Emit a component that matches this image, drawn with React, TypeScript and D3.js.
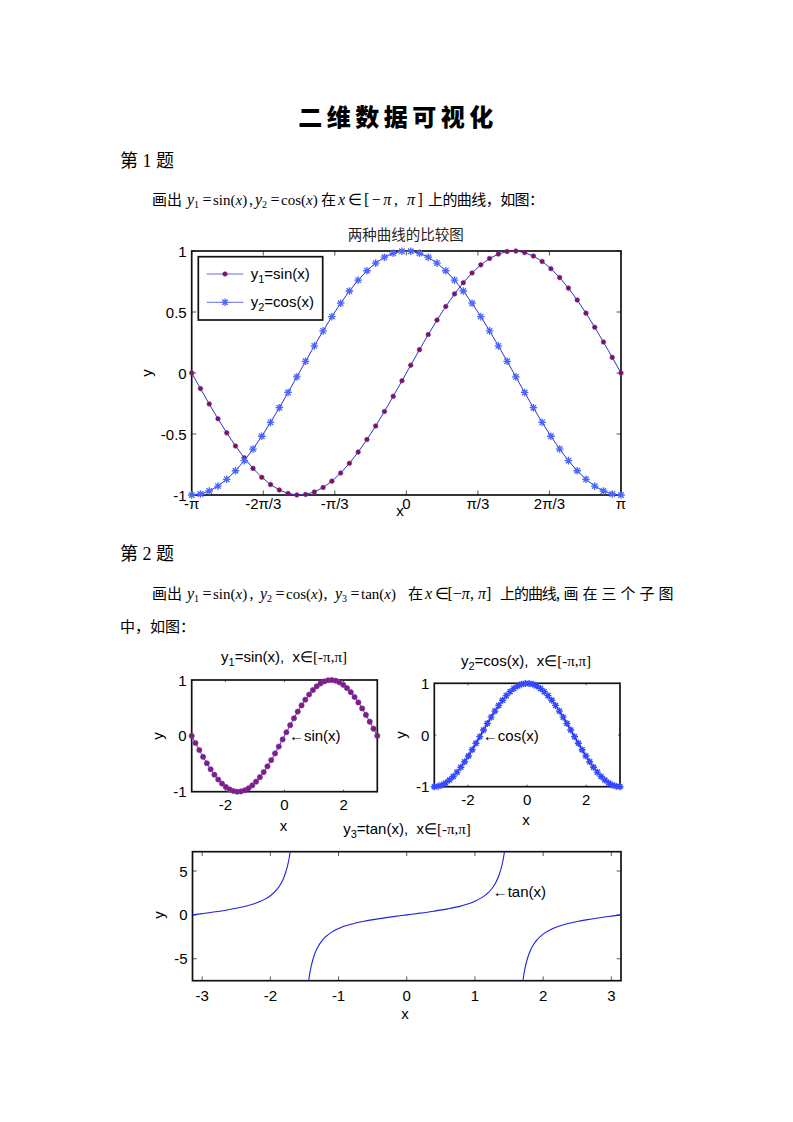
import React from "react";
import * as d3 from "d3";

// ---------- data ----------
const X_PTS = [
  -3.1416, -3.0134, -2.8851, -2.7569, -2.6287, -2.5005, -2.3722, -2.244, -2.1158, -1.9875,
  -1.8593, -1.7311, -1.6029, -1.4746, -1.3464, -1.2182, -1.0899, -0.9617, -0.8335, -0.7053,
  -0.577, -0.4488, -0.3206, -0.1923, -0.0641, 0.0641, 0.1923, 0.3206, 0.4488, 0.577,
  0.7053, 0.8335, 0.9617, 1.0899, 1.2182, 1.3464, 1.4746, 1.6029, 1.7311, 1.8593,
  1.9875, 2.1158, 2.244, 2.3722, 2.5005, 2.6287, 2.7569, 2.8851, 3.0134, 3.1416,
];
const SIN_PTS = [
  0, -0.1279, -0.2537, -0.3753, -0.4907, -0.5981, -0.6957, -0.7818, -0.8551, -0.9144,
  -0.9587, -0.9872, -0.9995, -0.9954, -0.9749, -0.9385, -0.8866, -0.8202, -0.7403, -0.6482,
  -0.5455, -0.4339, -0.3151, -0.1912, -0.0641, 0.0641, 0.1912, 0.3151, 0.4339, 0.5455,
  0.6482, 0.7403, 0.8202, 0.8866, 0.9385, 0.9749, 0.9954, 0.9995, 0.9872, 0.9587,
  0.9144, 0.8551, 0.7818, 0.6957, 0.5981, 0.4907, 0.3753, 0.2537, 0.1279, 0,
];
const COS_PTS = [
  -1, -0.9918, -0.9673, -0.9269, -0.8713, -0.8014, -0.7183, -0.6235, -0.5184, -0.4048,
  -0.2845, -0.1596, -0.0321, 0.096, 0.2225, 0.3454, 0.4625, 0.5721, 0.6723, 0.7615,
  0.8381, 0.901, 0.9491, 0.9816, 0.9979, 0.9979, 0.9816, 0.9491, 0.901, 0.8381,
  0.7615, 0.6723, 0.5721, 0.4625, 0.3454, 0.2225, 0.096, -0.0321, -0.1596, -0.2845,
  -0.4048, -0.5184, -0.6235, -0.7183, -0.8014, -0.8713, -0.9269, -0.9673, -0.9918, -1,
];
const TAN_X_A = [-3.1416, -3.0, -2.8, -2.65, -2.5, -2.35, -2.2, -2.1, -2.0, -1.9, -1.85, -1.8, -1.75, -1.72, -1.69];
const TAN_Y_A = [0, 0.1425, 0.3555, 0.5355, 0.747, 1.0125, 1.3738, 1.7098, 2.185, 2.9271, 3.488, 4.2863, 5.5204, 6.652, 8.349];
const TAN_X_B = [-1.44, -1.42, -1.4, -1.35, -1.3, -1.25, -1.2, -1.1, -1.0, -0.8, -0.6, -0.4, -0.2, 0, 0.2, 0.4, 0.6, 0.8, 1.0, 1.1, 1.2, 1.25, 1.3, 1.35, 1.4, 1.42, 1.44];
const TAN_Y_B = [-7.602, -6.581, -5.798, -4.455, -3.602, -3.0096, -2.572, -1.965, -1.557, -1.0296, -0.6841, -0.4228, -0.2027, 0, 0.2027, 0.4228, 0.6841, 1.0296, 1.557, 1.965, 2.572, 3.0096, 3.602, 4.455, 5.798, 6.581, 7.602];
const TAN_X_C = [1.69, 1.72, 1.75, 1.8, 1.85, 1.9, 2.0, 2.1, 2.2, 2.35, 2.5, 2.65, 2.8, 3.0, 3.1416];
const TAN_Y_C = [-8.349, -6.652, -5.5204, -4.2863, -3.488, -2.9271, -2.185, -1.7098, -1.3738, -1.0125, -0.747, -0.5355, -0.3555, -0.1425, 0];

const PI_TICKS = [-Math.PI, (-2 * Math.PI) / 3, -Math.PI / 3, 0, Math.PI / 3, (2 * Math.PI) / 3, Math.PI];
const PI_TICK_LABELS = ["-π", "-2π/3", "-π/3", "0", "π/3", "2π/3", "π"];
const Y1_TICKS = [-1, -0.5, 0, 0.5, 1];
const Y1_TICK_LABELS = ["-1", "-0.5", "0", "0.5", "1"];
const SUB_X_TICKS = [-2, 0, 2];
const SUB_X_LABELS = ["-2", "0", "2"];
const SUB_Y_TICKS = [-1, 0, 1];
const SUB_Y_LABELS = ["-1", "0", "1"];
const TAN_X_TICKS = [-3, -2, -1, 0, 1, 2, 3];
const TAN_Y_TICKS = [-5, 0, 5];

// ---------- styles ----------
const SANS = "'Liberation Sans', Arial, sans-serif";
const SERIF = "'Liberation Serif', 'Times New Roman', serif";
const CJK = "'Noto Sans CJK SC', sans-serif";
const NB = "\u00a0\u00a0";

const LINE_BLUE = "#3030e0";
const DOT_FILL = "#8a0c5a";
const DOT_STROKE = "#5a3a9a";
const STAR = "#4a66ff";

function starPath(r: number) {
  const d = r * 0.72;
  return `M${-r},0H${r}M0,${-r}V${r}M${-d},${-d}L${d},${d}M${-d},${d}L${d},${-d}`;
}

type AxProps = {
  xs: d3.ScaleLinear<number, number>;
  ys: d3.ScaleLinear<number, number>;
  xt: number[];
  xtl: string[];
  yt: number[];
  ytl: string[];
  tick: number;
  xBase: number;
  fs: number;
};

function Frame({ xs, ys, xt, xtl, yt, ytl, tick, xBase, fs }: AxProps) {
  const [x0, x1] = xs.range();
  const [y0, y1] = ys.range();
  return (
    <g>
      <rect x={x0} y={y1} width={x1 - x0} height={y0 - y1} fill="#fff" />
      {xt.map((t, i) => (
        <g key={"xt" + i} stroke="#555" strokeWidth={1}>
          <line x1={xs(t)} x2={xs(t)} y1={y0} y2={y0 - tick} />
          <line x1={xs(t)} x2={xs(t)} y1={y1} y2={y1 + tick} />
        </g>
      ))}
      {yt.map((t, i) => (
        <g key={"yt" + i} stroke="#555" strokeWidth={1}>
          <line x1={x0} x2={x0 + tick} y1={ys(t)} y2={ys(t)} />
          <line x1={x1} x2={x1 - tick} y1={ys(t)} y2={ys(t)} />
        </g>
      ))}
      <rect x={x0} y={y1} width={x1 - x0} height={y0 - y1} fill="none" stroke="#111" strokeWidth={1.7} />
      {xt.map((t, i) => (
        <text key={"xl" + i} x={xs(t)} y={xBase} textAnchor="middle" fontFamily={SANS} fontSize={fs}>
          {xtl[i]}
        </text>
      ))}
      {yt.map((t, i) => (
        <text
          key={"yl" + i}
          x={x0 - 5}
          y={ys(t)}
          textAnchor="end"
          dominantBaseline="central"
          fontFamily={SANS}
          fontSize={fs}
        >
          {ytl[i]}
        </text>
      ))}
    </g>
  );
}

export default function App() {
  // chart 1
  const x1s = d3.scaleLinear().domain([-Math.PI, Math.PI]).range([191.7, 621]);
  const y1s = d3.scaleLinear().domain([-1, 1]).range([495, 251]);
  const line1 = d3
    .line<number>()
    .x((_, i) => x1s(X_PTS[i]))
    .y((d) => y1s(d));

  // subplot 1
  const xa = d3.scaleLinear().domain([-Math.PI, Math.PI]).range([191.7, 377.3]);
  const ya = d3.scaleLinear().domain([-1, 1]).range([791.7, 680]);
  const lineA = d3
    .line<number>()
    .x((_, i) => xa(X_PTS[i]))
    .y((d) => ya(d));

  // subplot 2
  const xb = d3.scaleLinear().domain([-Math.PI, Math.PI]).range([434.3, 620]);
  const yb = d3.scaleLinear().domain([-1, 1]).range([786.7, 683.3]);
  const lineB = d3
    .line<number>()
    .x((_, i) => xb(X_PTS[i]))
    .y((d) => yb(d));

  // subplot 3
  const xc = d3.scaleLinear().domain([-Math.PI, Math.PI]).range([192.5, 621]);
  const yc = d3.scaleLinear().domain([-7.5, 7.2]).range([980.7, 851.7]);
  const tanLine = (xsArr: number[], ysArr: number[]) =>
    d3
      .line<number>()
      .x((_, i) => xc(xsArr[i]))
      .y((d) => yc(d))
      .curve(d3.curveMonotoneX)(ysArr) || "";

  const cjk15 = { fontFamily: CJK, fontSize: 15 };
  const ser = { fontFamily: SERIF, fontSize: 16 };
  const L1 = 205;
  const L2 = 599;

  const Yi = ({ x, y, n }: { x: number; y: number; n: string }) => (
    <text x={x} y={y} {...ser}>
      <tspan fontStyle="italic">y</tspan>
      <tspan fontSize={10} dy={3}>{n}</tspan>
    </text>
  );
  const Fn = ({ x, y, f }: { x: number; y: number; f: string }) => (
    <text x={x} y={y} fontFamily={SERIF} fontSize={15}>
      {f}(<tspan fontStyle="italic">x</tspan>)
    </text>
  );
  const Range = ({ x, y, ls }: { x: number; y: number; ls: number }) => (
    <text x={x} y={y} {...ser} letterSpacing={ls}>
      [−<tspan fontStyle="italic">π</tspan>,{"\u00a0"}<tspan fontStyle="italic">π</tspan>]
    </text>
  );

  return (
    <svg
      width={793}
      height={1122}
      style={{ position: "absolute", left: 0, top: 0, background: "#fff" }}
      xmlns="http://www.w3.org/2000/svg"
    >
      <defs>
        <clipPath id="tanclip">
          <rect x={192.5} y={851.7} width={621 - 192.5} height={980.7 - 851.7} />
        </clipPath>
      </defs>
      <rect x={0} y={0} width={793} height={1122} fill="#fff" />

      {/* page title */}
      <text x={398} y={126} textAnchor="middle" fontFamily={CJK} fontSize={24} fontWeight={900} letterSpacing={4.5}>
        二维数据可视化
      </text>

      {/* 第1题 */}
      <text x={120} y={167} fontFamily={CJK} fontSize={18}>
        第<tspan fontFamily={SERIF}> 1 </tspan>题
      </text>

      {/* line 1 */}
      <g>
        <text x={152} y={L1} {...cjk15}>画出</text>
        <Yi x={187} y={L1} n="1" />
        <text x={202.5} y={L1} {...ser}>=</text>
        <Fn x={213} y={L1} f="sin" />
        <text x={249} y={L1} {...ser}>,</text>
        <Yi x={255} y={L1} n="2" />
        <text x={270.5} y={L1} {...ser}>=</text>
        <Fn x={281} y={L1} f="cos" />
        <text x={321} y={L1} {...cjk15}>在</text>
        <text x={338} y={L1} {...ser} fontStyle="italic">x</text>
        <text x={348} y={L1} {...ser}>∈</text>
        <Range x={364} y={L1} ls={2.5} />
        <text x={428} y={L1} {...cjk15} textLength={116} lengthAdjust="spacing">上的曲线，如图：</text>
      </g>

      {/* chart 1 */}
      <text x={405.8} y={240} textAnchor="middle" fontFamily={CJK} fontSize={14.5} fill="#222">
        两种曲线的比较图
      </text>
      <Frame
        xs={x1s}
        ys={y1s}
        xt={PI_TICKS}
        xtl={PI_TICK_LABELS}
        yt={Y1_TICKS}
        ytl={Y1_TICK_LABELS}
        tick={4.5}
        xBase={509}
        fs={15}
      />
      <path d={line1(SIN_PTS) || ""} fill="none" stroke={LINE_BLUE} strokeWidth={1} />
      {SIN_PTS.map((v, i) => (
        <circle key={"s" + i} cx={x1s(X_PTS[i])} cy={y1s(v)} r={2.3} fill={DOT_FILL} stroke={DOT_STROKE} strokeWidth={0.6} />
      ))}
      <path d={line1(COS_PTS) || ""} fill="none" stroke={LINE_BLUE} strokeWidth={1} />
      {COS_PTS.map((v, i) => (
        <path
          key={"c" + i}
          d={starPath(3.8)}
          transform={`translate(${x1s(X_PTS[i])},${y1s(v)})`}
          stroke={STAR}
          strokeWidth={1.3}
          fill="none"
        />
      ))}
      <text x={400} y={516} textAnchor="middle" fontFamily={SANS} fontSize={15}>x</text>
      <text transform={`translate(152,373) rotate(-90)`} textAnchor="middle" fontFamily={SANS} fontSize={15}>
        y
      </text>
      {/* legend */}
      <g>
        <rect x={198.3} y={256.7} width={124.4} height={63.3} fill="#fff" stroke="#111" strokeWidth={1.7} />
        <line x1={206.7} x2={243.3} y1={274} y2={274} stroke="#6a6ae8" strokeWidth={1} />
        <circle cx={225} cy={274} r={2.3} fill={DOT_FILL} stroke={DOT_STROKE} strokeWidth={0.6} />
        <text x={250.7} y={279} fontFamily={SANS} fontSize={15}>
          y<tspan fontSize={11} dy={4}>1</tspan>
          <tspan dy={-4}>=sin(x)</tspan>
        </text>
        <line x1={206.7} x2={243.3} y1={302.3} y2={302.3} stroke="#6a6ae8" strokeWidth={1} />
        <path d={starPath(3.8)} transform="translate(225,302.3)" stroke={STAR} strokeWidth={1.3} fill="none" />
        <text x={250.7} y={307.3} fontFamily={SANS} fontSize={15}>
          y<tspan fontSize={11} dy={4}>2</tspan>
          <tspan dy={-4}>=cos(x)</tspan>
        </text>
      </g>

      {/* 第2题 */}
      <text x={120} y={560} fontFamily={CJK} fontSize={18}>
        第<tspan fontFamily={SERIF}> 2 </tspan>题
      </text>
      <g>
        <text x={152} y={L2} {...cjk15}>画出</text>
        <Yi x={187} y={L2} n="1" />
        <text x={202.5} y={L2} {...ser}>=</text>
        <Fn x={213} y={L2} f="sin" />
        <text x={249.5} y={L2} {...ser}>,</text>
        <Yi x={260} y={L2} n="2" />
        <text x={275.5} y={L2} {...ser}>=</text>
        <Fn x={286} y={L2} f="cos" />
        <text x={323.5} y={L2} {...ser}>,</text>
        <Yi x={335} y={L2} n="3" />
        <text x={350.5} y={L2} {...ser}>=</text>
        <Fn x={361} y={L2} f="tan" />
        <text x={408} y={L2} {...cjk15}>在</text>
        <text x={425} y={L2} {...ser} fontStyle="italic">x</text>
        <text x={434.5} y={L2} {...ser}>∈</text>
        <Range x={447.5} y={L2} ls={0} />
        <text x={500} y={L2} {...cjk15} textLength={60} lengthAdjust="spacing">上的曲线,</text>
        <text x={563.5} y={L2} {...cjk15} textLength={110} lengthAdjust="spacing">画在三个子图</text>
        <text x={120} y={632} {...cjk15}>中，如图：</text>
      </g>

      {/* subplot 1 */}
      <text x={284} y={662} textAnchor="middle" fontFamily={SANS} fontSize={15}>
        y<tspan fontSize={11} dy={4}>1</tspan>
        <tspan dy={-4}>{"=sin(x)," + NB + "x"}</tspan>
        <tspan fontFamily={SERIF}>∈[-π,π]</tspan>
      </text>
      <Frame xs={xa} ys={ya} xt={SUB_X_TICKS} xtl={SUB_X_LABELS} yt={SUB_Y_TICKS} ytl={SUB_Y_LABELS} tick={2} xBase={810} fs={15} />
      <path d={lineA(SIN_PTS) || ""} fill="none" stroke={LINE_BLUE} strokeWidth={1} />
      {SIN_PTS.map((v, i) => (
        <circle key={"sa" + i} cx={xa(X_PTS[i])} cy={ya(v)} r={2.6} fill="#8a1a7a" stroke="#6a3ab8" strokeWidth={0.7} />
      ))}
      <text x={xa(0.15)} y={ya(0)} dominantBaseline="central" fontFamily={SANS} fontSize={15}>
        ←sin(x)
      </text>
      <text x={283.5} y={831} textAnchor="middle" fontFamily={SANS} fontSize={15}>x</text>
      <text transform="translate(163,736) rotate(-90)" textAnchor="middle" fontFamily={SANS} fontSize={15}>y</text>

      {/* subplot 2 */}
      <text x={526} y={666} textAnchor="middle" fontFamily={SANS} fontSize={15}>
        y<tspan fontSize={11} dy={4}>2</tspan>
        <tspan dy={-4}>{"=cos(x)," + NB + "x"}</tspan>
        <tspan fontFamily={SERIF}>∈[-π,π]</tspan>
      </text>
      <Frame xs={xb} ys={yb} xt={SUB_X_TICKS} xtl={SUB_X_LABELS} yt={SUB_Y_TICKS} ytl={SUB_Y_LABELS} tick={2} xBase={805} fs={15} />
      <path d={lineB(COS_PTS) || ""} fill="none" stroke="#101080" strokeWidth={1.3} />
      {COS_PTS.map((v, i) => (
        <path
          key={"cb" + i}
          d={starPath(3.5)}
          transform={`translate(${xb(X_PTS[i])},${yb(v)})`}
          stroke="#3348ff"
          strokeWidth={1.4}
          fill="none"
        />
      ))}
      <text x={xb(-1.5)} y={yb(0)} dominantBaseline="central" fontFamily={SANS} fontSize={15}>
        ←cos(x)
      </text>
      <text x={526} y={825} textAnchor="middle" fontFamily={SANS} fontSize={15}>x</text>
      <text transform="translate(406,735) rotate(-90)" textAnchor="middle" fontFamily={SANS} fontSize={15}>y</text>

      {/* subplot 3 */}
      <text x={407} y={834} textAnchor="middle" fontFamily={SANS} fontSize={15}>
        y<tspan fontSize={11} dy={4}>3</tspan>
        <tspan dy={-4}>{"=tan(x)," + NB + "x"}</tspan>
        <tspan fontFamily={SERIF}>∈[-π,π]</tspan>
      </text>
      <Frame
        xs={xc}
        ys={yc}
        xt={TAN_X_TICKS}
        xtl={TAN_X_TICKS.map(String)}
        yt={TAN_Y_TICKS}
        ytl={TAN_Y_TICKS.map(String)}
        tick={4.3}
        xBase={1001}
        fs={15}
      />
      <g clipPath="url(#tanclip)" fill="none" stroke="#2020e0" strokeWidth={1.1}>
        <path d={tanLine(TAN_X_A, TAN_Y_A)} />
        <path d={tanLine(TAN_X_B, TAN_Y_B)} />
        <path d={tanLine(TAN_X_C, TAN_Y_C)} />
      </g>
      <text x={xc(1.26)} y={yc(2.7)} dominantBaseline="central" fontFamily={SANS} fontSize={15}>
        ←tan(x)
      </text>
      <text x={405} y={1019} textAnchor="middle" fontFamily={SANS} fontSize={15}>x</text>
      <text transform="translate(164,915) rotate(-90)" textAnchor="middle" fontFamily={SANS} fontSize={15}>y</text>
    </svg>
  );
}
